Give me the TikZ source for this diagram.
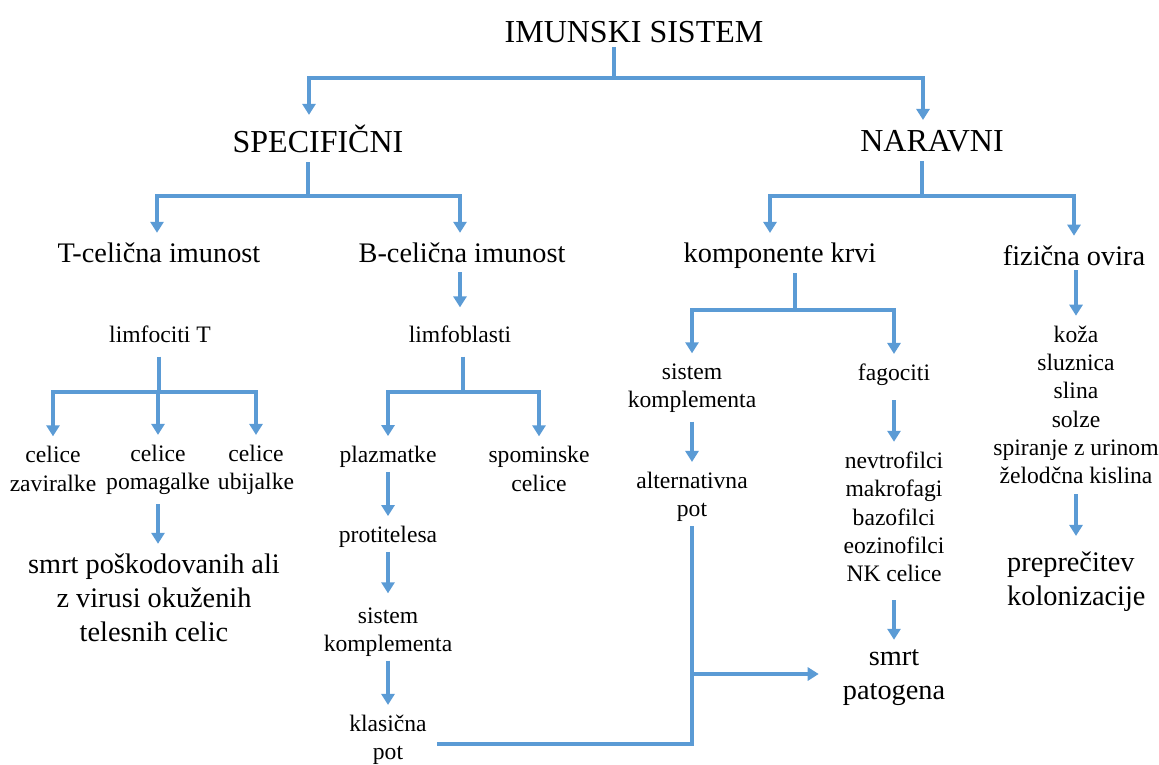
\documentclass[tikz,border=0pt]{standalone}
\usepackage{fontspec}
\setmainfont{Liberation Serif}
\usepackage{tikz}
\usetikzlibrary{arrows.meta,positioning}
\definecolor{imblue}{HTML}{5B9BD5}

\begin{document}
\begin{tikzpicture}[x=1pt,y=-1pt,
  big/.style={font=\fontsize{32}{36}\selectfont, inner sep=4pt},
  mid/.style={font=\fontsize{28.3}{34}\selectfont, align=center, inner sep=4pt},
  small/.style={font=\fontsize{23.6}{28.3}\selectfont, align=center, inner sep=4pt},
  link/.style={line width=4pt, draw=imblue},
  arr/.style={link, -{Triangle[width=13pt,length=11pt]}, shorten >=6pt}
]
\useasboundingbox (0,0) rectangle (1159,765);
\node[big] (sys) at (634,32) {IMUNSKI SISTEM};
\node[big] (spec) at (318,139) {SPECIFIČNI};
\node[big] (nar) at (932,141) {NARAVNI};
\node[mid] (tcel) at (159,253) {T-celična imunost};
\node[mid] (bcel) at (462,253) {B-celična imunost};
\node[mid] (komp) at (780,256) {komponente krvi};
\node[mid] (fiz) at (1074,256) {fizična ovira};
\node[small] (limT) at (160,334) {limfociti T};
\node[small] (limB) at (460,334) {limfoblasti};
\node[small] (zav) at (53,469) {celice\\zaviralke};
\node[small] (pom) at (158,470) {celice\\pomagalke};
\node[small] (ubi) at (256,470) {celice\\ubijalke};
\node[mid] (smrtT) at (154,598) {smrt poškodovanih ali\\z virusi okuženih\\telesnih celic};
\node[small] (plaz) at (388,457) {plazmatke};
\node[small] (spom) at (539,469) {spominske\\celice};
\node[small] (prot) at (388,537) {protitelesa};
\node[small] (sisB) at (388,632) {sistem\\komplementa};
\node[small] (klas) at (388,740) {klasična\\pot};
\node[small] (sisK) at (692,388) {sistem\\komplementa};
\node[small] (fag) at (894,375) {fagociti};
\node[small] (alt) at (692,497) {alternativna\\pot};
\node[small] (fagl) at (894,517) {nevtrofilci\\makrofagi\\bazofilci\\eozinofilci\\NK celice};
\node[mid] (smrtP) at (894,678) {smrt\\patogena};
\node[small] (fizl) at (1076,405) {koža\\sluznica\\slina\\solze\\spiranje z urinom\\želodčna kislina};
\node[mid, align=left, anchor=west] (prep) at (1003,582) {preprečitev\\kolonizacije};
\coordinate (j0) at (614,78);
\coordinate (j1) at (308,196);
\coordinate (j2) at (922,196);
\coordinate (j3) at (159,392);
\coordinate (j4) at (463,392);
\coordinate (j5) at (795,310);
\coordinate (jb) at (692,744);
\coordinate (jm) at (692,674);
\draw[link] (sys.south -| j0) -- (j0);
\draw[arr] (j0) -| ([xshift=-9pt]spec.north);
\draw[arr] (j0) -| ([xshift=-9pt]nar.north);
\draw[link, shorten <=5pt] (spec.south -| j1) -- (j1);
\draw[link, shorten <=5pt] (nar.south -| j2) -- (j2);
\draw[arr] (j1) -| ([xshift=-2pt]tcel.north);
\draw[arr] (j1) -| ([xshift=-2pt]bcel.north);
\draw[arr] (j2) -| ([xshift=-10pt]komp.north);
\draw[arr] (j2) -| (fiz.north);
\draw[arr, shorten <=5pt, shorten >=14pt] (bcel.south -| limB) -- (limB);
\draw[link, shorten <=10pt] (limT.south -| j3) -- (j3);
\draw[link, shorten <=10pt] (limB.south -| j4) -- (j4);
\foreach \n in {zav,pom,ubi} {\draw[arr] (j3) -| (\n.north);}
\foreach \n in {plaz,spom} {\draw[arr] (j4) -| (\n.north);}
\draw[arr, shorten <=5pt] (pom.south) -- (pom.south |- smrtT.north);
\draw[arr] (plaz) -- (prot);
\draw[arr, shorten >=10pt] (prot) -- (sisB);
\draw[arr] (sisB) -- (klas);
\draw[link] (komp.south -| j5) -- (j5);
\foreach \n in {sisK,fag} {\draw[arr] (j5) -| (\n.north);}
\draw[arr, shorten <=5pt] (sisK) -- (alt);
\draw[arr, shorten <=10pt] (fag) -- (fagl);
\draw[arr, shorten <=14pt] (fagl) -- (smrtP);
\draw[arr] (fiz.south -| fizl) -- (fizl);
\draw[arr, shorten <=6pt, shorten >=12pt] (fizl) -- (fizl |- prep.north);
\draw[link, shorten >=6pt] (alt) -- (jb) -- (klas.east |- jb);
\draw[arr, shorten >=20pt] (jm) -- (smrtP.west |- jm);
\end{tikzpicture}
\end{document}
